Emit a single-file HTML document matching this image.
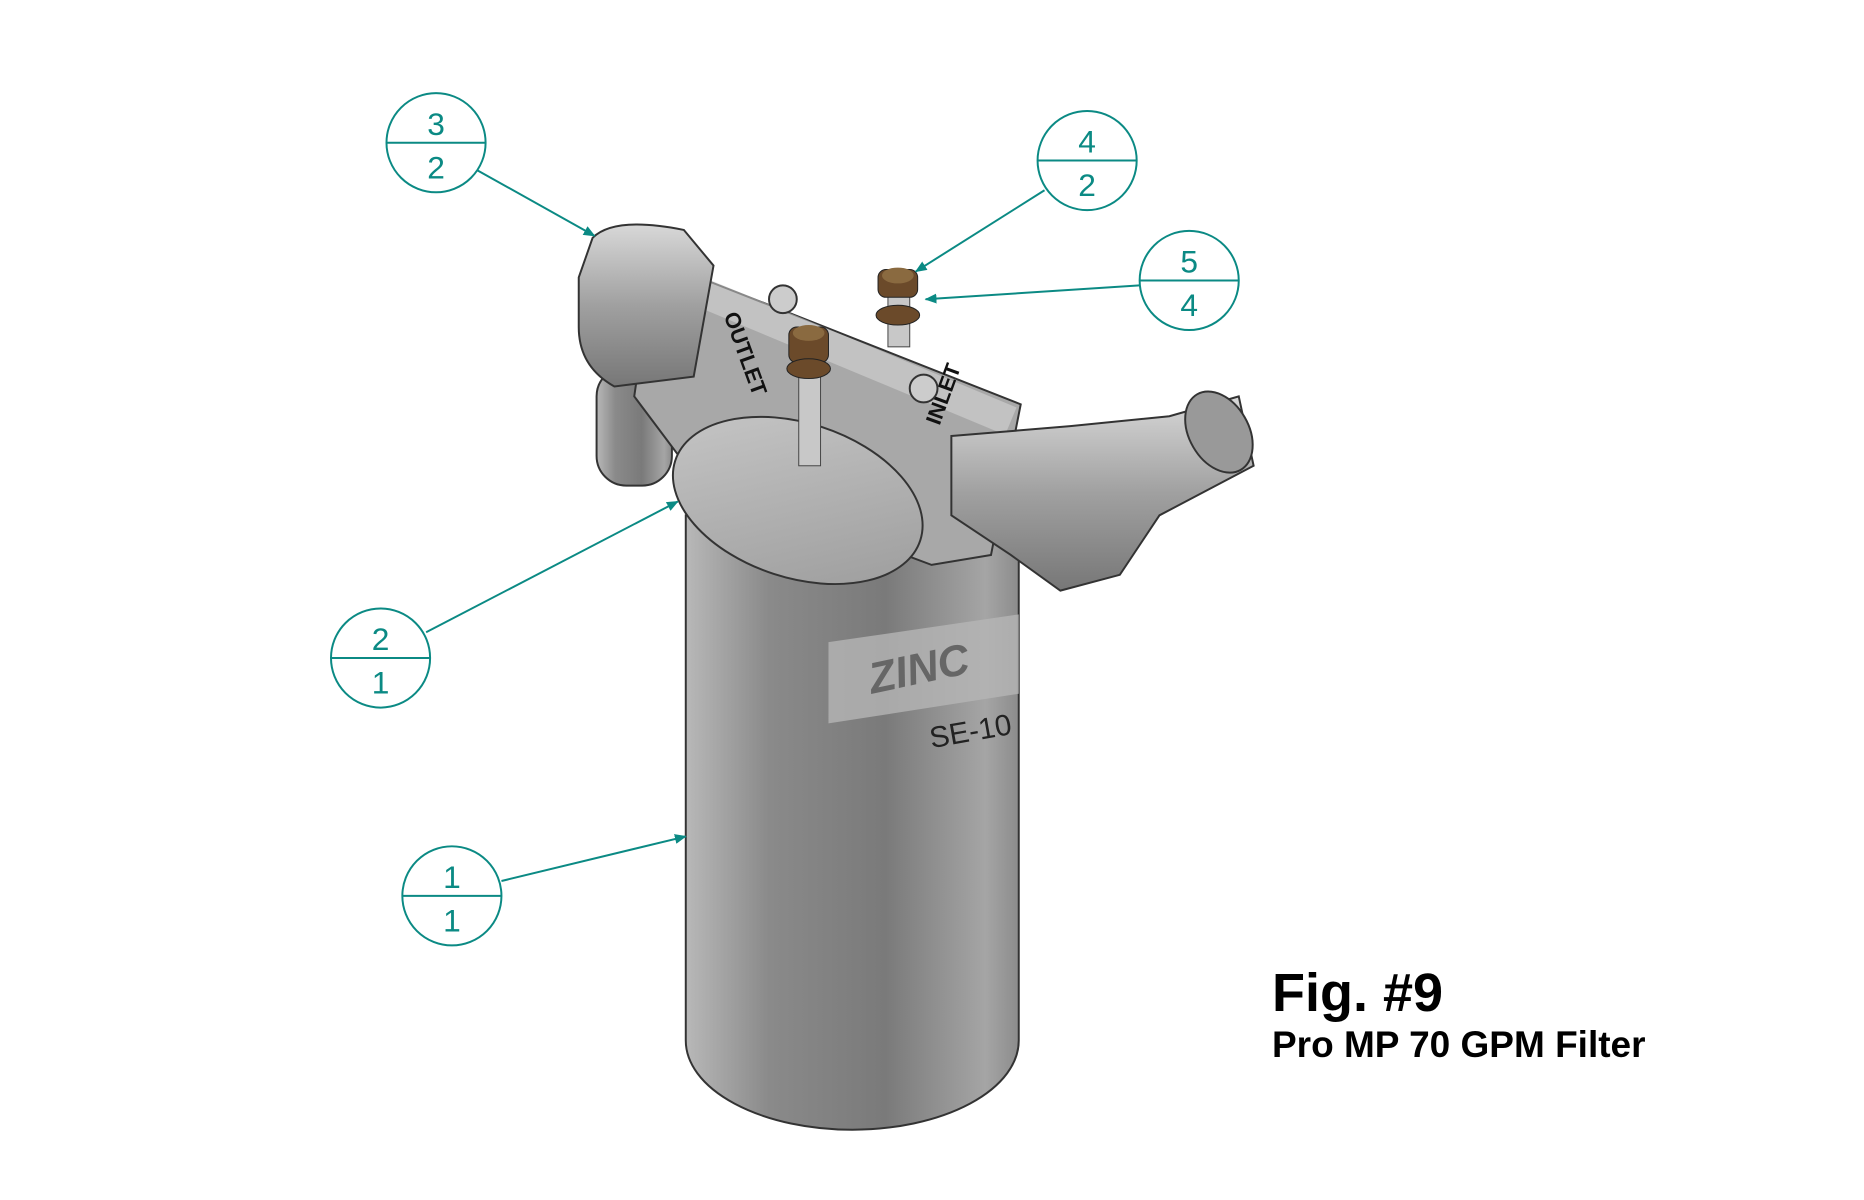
<!DOCTYPE html>
<html><head><meta charset="utf-8"><style>
html,body{margin:0;padding:0;background:#fff;}
svg{display:block}
</style></head><body>
<svg width="1864" height="1200" viewBox="0 0 1864 1200" xmlns="http://www.w3.org/2000/svg">
<defs>
<linearGradient id="cyl" x1="0" x2="1" y1="0" y2="0">
<stop offset="0" stop-color="#b8b8b8"/><stop offset="0.25" stop-color="#8a8a8a"/><stop offset="0.6" stop-color="#7a7a7a"/><stop offset="0.9" stop-color="#a5a5a5"/><stop offset="1" stop-color="#8c8c8c"/>
</linearGradient>
<linearGradient id="pipe" x1="0" x2="0" y1="0" y2="1">
<stop offset="0" stop-color="#d8d8d8"/><stop offset="0.5" stop-color="#a0a0a0"/><stop offset="1" stop-color="#777"/>
</linearGradient>
<linearGradient id="lid" x1="0" x2="1" y1="0" y2="1">
<stop offset="0" stop-color="#c8c8c8"/><stop offset="1" stop-color="#9a9a9a"/>
</linearGradient>
<marker id="ah" markerWidth="12" markerHeight="10" refX="11" refY="5" orient="auto" markerUnits="userSpaceOnUse">
<path d="M0,0 L12,5 L0,10 Z" fill="#0b8a84"/>
</marker>
</defs>
<g transform="scale(0.991)">
<path d="M692,520 L692,1050 A168,90 0 0 0 1028,1050 L1028,520 Z" fill="url(#cyl)" stroke="#333" stroke-width="2"/>
<path d="M836,648 L1028,620 L1028,700 L836,730 Z" fill="#b5b5b5" opacity="0.8"/>
<text x="880" y="700" font-family="Liberation Sans, sans-serif" font-size="44" font-weight="bold" font-style="italic" fill="#666" transform="rotate(-12 880 700)">ZINC</text>
<text x="940" y="755" font-family="Liberation Sans, sans-serif" font-size="30" fill="#222" transform="rotate(-10 940 755)">SE-10</text>

<rect x="602" y="370" width="76" height="120" rx="30" fill="url(#cyl)" stroke="#333" stroke-width="2"/>
<path d="M660,262 L1030,408 L1000,560 L940,570 L700,480 L640,400 Z" fill="#a8a8a8" stroke="#333" stroke-width="2"/>
<path d="M660,275 L1020,425" stroke="#ddd" stroke-width="30" opacity="0.5"/>
<path d="M598,240 Q620,218 690,232 L720,268 L700,380 L620,390 Q584,370 584,330 L584,280 Z" fill="url(#pipe)" stroke="#333" stroke-width="2"/>
<ellipse cx="805" cy="505" rx="130" ry="78" fill="url(#lid)" stroke="#333" stroke-width="2" transform="rotate(18 805 505)"/>
<path d="M960,440 L1080,430 L1180,420 L1250,400 L1265,470 L1170,520 L1130,580 L1070,596 L1020,560 L960,520 Z" fill="url(#pipe)" stroke="#333" stroke-width="2"/>
<ellipse cx="1230" cy="436" rx="30" ry="44" fill="#999" stroke="#333" stroke-width="2" transform="rotate(-30 1230 436)"/>
<text x="730" y="318" font-family="Liberation Sans, sans-serif" font-size="22" font-weight="bold" fill="#111" transform="rotate(70 730 318)">OUTLET</text>
<text x="948" y="430" font-family="Liberation Sans, sans-serif" font-size="22" font-weight="bold" fill="#111" transform="rotate(-70 948 430)">INLET</text>
<circle cx="790" cy="302" r="14" fill="#ccc" stroke="#333" stroke-width="2"/>
<circle cx="932" cy="392" r="14" fill="#ccc" stroke="#333" stroke-width="2"/>
<rect x="896" y="290" width="22" height="60" fill="#c8c8c8" stroke="#444"/>
<rect x="886" y="272" width="40" height="28" rx="8" fill="#6b4a2a" stroke="#222"/>
<ellipse cx="906" cy="278" rx="16" ry="8" fill="#8a6a40"/>
<ellipse cx="906" cy="318" rx="22" ry="10" fill="#6b4a2a" stroke="#222"/>
<rect x="806" y="370" width="22" height="100" fill="#c8c8c8" stroke="#444"/>
<rect x="796" y="330" width="40" height="36" rx="8" fill="#6b4a2a" stroke="#222"/>
<ellipse cx="816" cy="336" rx="16" ry="8" fill="#8a6a40"/>
<ellipse cx="816" cy="372" rx="22" ry="10" fill="#6b4a2a" stroke="#222"/>

<g fill="none" stroke="#0b8a84" stroke-width="2">
<circle cx="440" cy="144" r="50"/><line x1="390" y1="144" x2="490" y2="144"/>
<circle cx="1097" cy="162" r="50"/><line x1="1047" y1="162" x2="1147" y2="162"/>
<circle cx="1200" cy="283" r="50"/><line x1="1150" y1="283" x2="1250" y2="283"/>
<circle cx="384" cy="664" r="50"/><line x1="334" y1="664" x2="434" y2="664"/>
<circle cx="456" cy="904" r="50"/><line x1="406" y1="904" x2="506" y2="904"/>
<line x1="482" y1="172" x2="600" y2="238" marker-end="url(#ah)"/>
<line x1="1054" y1="192" x2="924" y2="274" marker-end="url(#ah)"/>
<line x1="1150" y1="288" x2="934" y2="302" marker-end="url(#ah)"/>
<line x1="430" y1="638" x2="684" y2="506" marker-end="url(#ah)"/>
<line x1="506" y1="889" x2="692" y2="844" marker-end="url(#ah)"/>
</g>
<g font-family="Liberation Sans, sans-serif" font-size="32" fill="#0b8a84" text-anchor="middle">
<text x="440" y="136">3</text><text x="440" y="180">2</text>
<text x="1097" y="154">4</text><text x="1097" y="198">2</text>
<text x="1200" y="275">5</text><text x="1200" y="319">4</text>
<text x="384" y="656">2</text><text x="384" y="700">1</text>
<text x="456" y="896">1</text><text x="456" y="940">1</text>
</g>
</g>
<text x="1272" y="1011" font-family="Liberation Sans, sans-serif" font-size="54" font-weight="bold" fill="#000">Fig. #9</text>
<text x="1272" y="1057" font-family="Liberation Sans, sans-serif" font-size="37" font-weight="bold" fill="#000">Pro MP 70 GPM Filter</text>
</svg>
</body></html>
